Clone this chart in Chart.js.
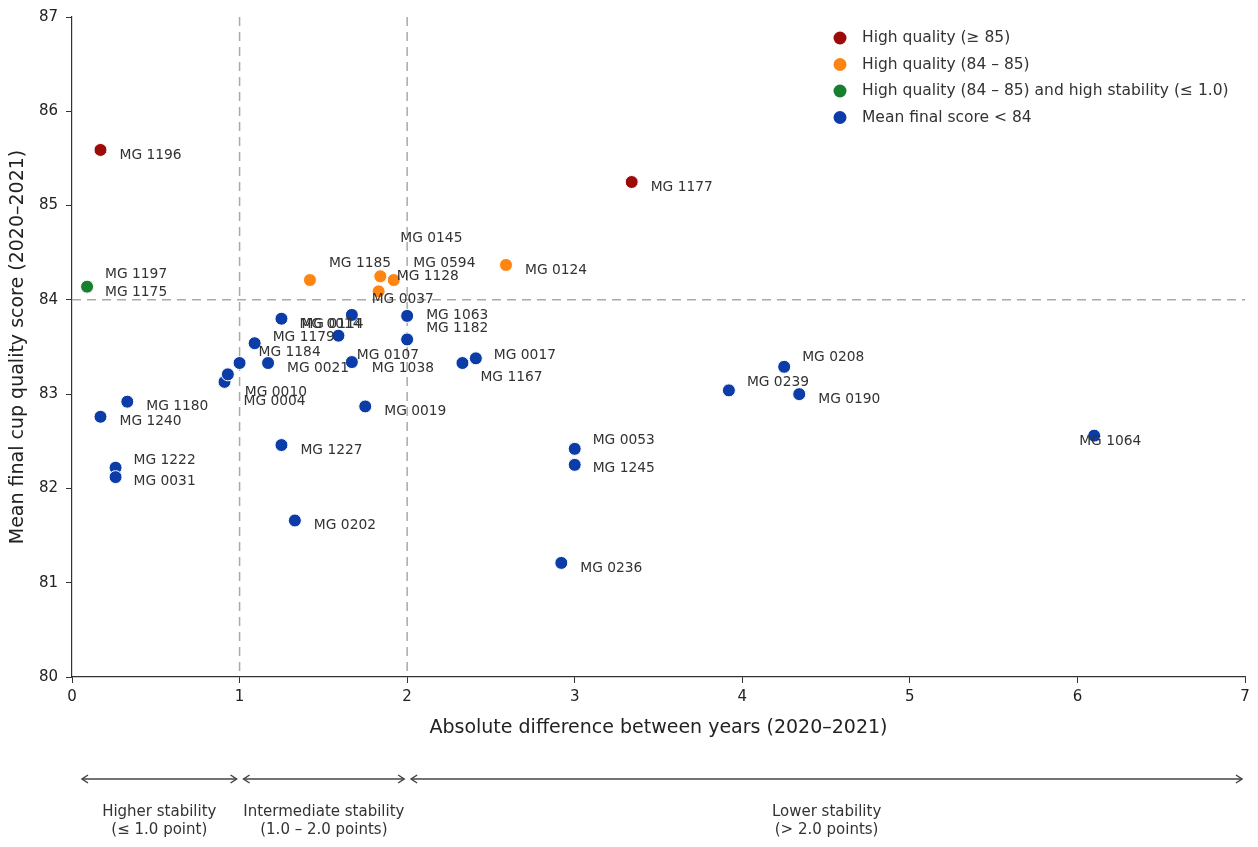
<!DOCTYPE html>
<html>
<head>
<meta charset="utf-8">
<title>Cup quality vs stability</title>
<script src="https://cdn.jsdelivr.net/npm/chart.js@4.4.1/dist/chart.umd.min.js"></script>
<style>
  html, body { margin: 0; padding: 0; background: #fff; }
  #wrap { width: 1258px; height: 847px; position: relative; }
</style>
</head>
<body>
<div id="wrap"><canvas id="chart"></canvas></div>
<script>
// --- data ---
const varieties = [
  'MG 1196', 'MG 1177',
  'MG 1185', 'MG 0145', 'MG 0594', 'MG 1128', 'MG 0037', 'MG 0124',
  'MG 1197', 'MG 1175',
  'MG 1240', 'MG 1180', 'MG 1222', 'MG 0031', 'MG 0004', 'MG 0010', 'MG 1184',
  'MG 1179', 'MG 0021', 'MG 0014', 'MG 0114', 'MG 0107', 'MG 1038', 'MG 0019',
  'MG 1063', 'MG 1182', 'MG 1167', 'MG 0017', 'MG 1227', 'MG 0202', 'MG 0053',
  'MG 1245', 'MG 0236', 'MG 0239', 'MG 0208', 'MG 0190', 'MG 1064'
];
const absDiff = [
  0.17, 3.34,
  1.42, 1.84, 1.84, 1.92, 1.83, 2.59,
  0.09, 0.09,
  0.17, 0.33, 0.26, 0.26, 0.91, 0.93, 1.00,
  1.09, 1.17, 1.25, 1.59, 1.67, 1.67, 1.75,
  2.00, 2.00, 2.33, 2.41, 1.25, 1.33, 3.00,
  3.00, 2.92, 3.92, 4.25, 4.34, 6.10
];
const meanScore = [
  85.59, 85.25,
  84.21, 84.25, 84.25, 84.21, 84.09, 84.37,
  84.14, 84.14,
  82.76, 82.92, 82.22, 82.12, 83.13, 83.21, 83.33,
  83.54, 83.33, 83.80, 83.62, 83.84, 83.34, 82.87,
  83.83, 83.58, 83.33, 83.38, 82.46, 81.66, 82.42,
  82.25, 81.21, 83.04, 83.29, 83.00, 82.56
];
const category = [
  'high', 'high',
  'mid', 'mid', 'mid', 'mid', 'mid', 'mid',
  'stable', 'stable',
  'low', 'low', 'low', 'low', 'low', 'low', 'low',
  'low', 'low', 'low', 'low', 'low', 'low', 'low',
  'low', 'low', 'low', 'low', 'low', 'low', 'low',
  'low', 'low', 'low', 'low', 'low', 'low'
];
const xRange = [0, 7];
const yRange = [80, 87];
const scoreCut = 84;
const stabilityCuts = [1, 2];
const bandEdges = [0, 1, 2, 7];
const bandText = [
  ['Higher stability', '(\u2264 1.0 point)'],
  ['Intermediate stability', '(1.0 \u2013 2.0 points)'],
  ['Lower stability', '(> 2.0 points)']
];

// --- styling ---
const GROUPS = [
  { key: 'high',   label: 'High quality (\u2265 85)',                                   color: '#9c0a0a' },
  { key: 'mid',    label: 'High quality (84 \u2013 85)',                                color: '#ff8512' },
  { key: 'stable', label: 'High quality (84 \u2013 85) and high stability (\u2264 1.0)', color: '#17802f' },
  { key: 'low',    label: 'Mean final score < 84',                                      color: '#0b3ca8' }
];
const FONT = '"DejaVu Sans", sans-serif';
const TEXT = '#333';

// label nudges in pixels (default: right of the dot)
const LABEL_NUDGE = {
  'MG 1185': [19, -17], 'MG 0145': [20, -38], 'MG 0594': [33, -13], 'MG 1128': [3, -4],
  'MG 0037': [-7, 8], 'MG 1197': [18, -12], 'MG 1175': [18, 6], 'MG 1222': [18, -7],
  'MG 0031': [18, 4], 'MG 0004': [19, 20], 'MG 0010': [17, 18], 'MG 1184': [19, -11],
  'MG 1179': [18, -6], 'MG 0014': [18, 6], 'MG 0114': [-37, -11], 'MG 0107': [5, 40],
  'MG 1038': [20, 6], 'MG 1063': [19, 0], 'MG 1182': [19, -11], 'MG 1167': [18, 14],
  'MG 0017': [18, -3], 'MG 0053': [18, -8], 'MG 1245': [18, 4], 'MG 0239': [18, -8],
  'MG 0208': [18, -9], 'MG 1064': [-15, 6]
};

const datasets = GROUPS.map(g => ({
  label: g.label,
  data: varieties
    .map((name, i) => ({ x: absDiff[i], y: meanScore[i], name: name, cat: category[i] }))
    .filter(p => p.cat === g.key),
  backgroundColor: g.color,
  borderColor: '#ffffff',
  borderWidth: 1,
  pointRadius: 6.5,
  pointHoverRadius: 6.5
}));

// dashed reference lines
const guideLines = {
  id: 'guideLines',
  beforeDatasetsDraw(chart) {
    const { ctx, chartArea: a, scales: { x, y } } = chart;
    ctx.save();
    ctx.strokeStyle = '#a9a9a9';
    ctx.lineWidth = 1.5;
    ctx.setLineDash([9, 6]);
    stabilityCuts.forEach(v => {
      const px = x.getPixelForValue(v);
      ctx.beginPath();
      ctx.moveTo(px, a.top);
      ctx.lineTo(px, a.bottom);
      ctx.stroke();
    });
    const py = y.getPixelForValue(scoreCut);
    ctx.beginPath();
    ctx.moveTo(a.left, py);
    ctx.lineTo(a.right, py);
    ctx.stroke();
    ctx.restore();
  }
};

// variety names beside each dot
const pointLabels = {
  id: 'pointLabels',
  afterDatasetsDraw(chart) {
    const ctx = chart.ctx;
    ctx.save();
    ctx.font = '13.8px ' + FONT;
    ctx.fillStyle = TEXT;
    ctx.textAlign = 'left';
    ctx.textBaseline = 'middle';
    chart.data.datasets.forEach((ds, di) => {
      chart.getDatasetMeta(di).data.forEach((el, j) => {
        const name = ds.data[j].name;
        const nudge = LABEL_NUDGE[name] || [19, 5];
        ctx.fillText(name, el.x + nudge[0], el.y + nudge[1]);
      });
    });
    ctx.restore();
  }
};

// legend in the upper right corner
const cornerLegend = {
  id: 'cornerLegend',
  afterDraw(chart) {
    const { ctx, chartArea: a } = chart;
    const x0 = a.right - 405;
    ctx.save();
    ctx.font = '15.5px ' + FONT;
    ctx.textBaseline = 'middle';
    GROUPS.forEach((g, i) => {
      const yy = a.top + 21 + i * 26.5;
      ctx.beginPath();
      ctx.arc(x0, yy, 6.5, 0, Math.PI * 2);
      ctx.fillStyle = g.color;
      ctx.fill();
      ctx.fillStyle = TEXT;
      ctx.fillText(g.label, x0 + 22, yy);
    });
    ctx.restore();
  }
};

// stability bands under the x axis
function arrowHead(ctx, x, y, dir) {
  ctx.beginPath();
  ctx.moveTo(x - dir * 6, y - 4);
  ctx.lineTo(x, y);
  ctx.lineTo(x - dir * 6, y + 4);
  ctx.stroke();
}
const stabilityBands = {
  id: 'stabilityBands',
  afterDraw(chart) {
    const { ctx, chartArea: a, scales: { x } } = chart;
    const ay = a.bottom + 102;
    ctx.save();
    ctx.strokeStyle = '#444';
    ctx.lineWidth = 1.5;
    ctx.font = '15px ' + FONT;
    ctx.fillStyle = TEXT;
    ctx.textAlign = 'center';
    ctx.textBaseline = 'middle';
    for (let k = 0; k < bandText.length; k++) {
      const x1 = x.getPixelForValue(bandEdges[k]) + (k === 0 ? 10 : 4);
      const x2 = x.getPixelForValue(bandEdges[k + 1]) - 3;
      ctx.beginPath();
      ctx.moveTo(x1, ay);
      ctx.lineTo(x2, ay);
      ctx.stroke();
      arrowHead(ctx, x1, ay, -1);
      arrowHead(ctx, x2, ay, 1);
      const cx = (x1 + x2) / 2;
      ctx.fillText(bandText[k][0], cx, ay + 33);
      ctx.fillText(bandText[k][1], cx, ay + 51);
    }
    ctx.restore();
  }
};

Chart.defaults.font.family = FONT;
Chart.defaults.color = '#222';

new Chart(document.getElementById('chart'), {
  type: 'scatter',
  data: { datasets: datasets },
  options: {
    responsive: true,
    maintainAspectRatio: false,
    animation: false,
    layout: { padding: { top: 16, right: 13, left: 0, bottom: 0 } },
    plugins: {
      legend: { display: false },
      tooltip: { enabled: false }
    },
    scales: {
      x: {
        type: 'linear',
        min: xRange[0],
        max: xRange[1],
        ticks: { stepSize: 1, font: { size: 15 }, color: '#222', padding: 5 },
        grid: { display: true, drawOnChartArea: false, drawTicks: true, tickLength: 6, color: '#333' },
        border: { display: true, color: '#333', width: 1.2 },
        title: {
          display: true,
          text: 'Absolute difference between years (2020\u20132021)',
          font: { size: 19 },
          color: '#222',
          padding: { top: 4, bottom: 108 }
        },
        afterFit: s => { s.height = 170; }
      },
      y: {
        type: 'linear',
        min: yRange[0],
        max: yRange[1],
        ticks: { stepSize: 1, font: { size: 15 }, color: '#222', padding: 8 },
        grid: { display: true, drawOnChartArea: false, drawTicks: true, tickLength: 6, color: '#333' },
        border: { display: true, color: '#333', width: 1.2 },
        title: {
          display: true,
          text: 'Mean final cup quality score (2020\u20132021)',
          font: { size: 19 },
          color: '#222',
          padding: { top: 7, bottom: 4 }
        },
        afterFit: s => { s.width = 72; }
      }
    }
  },
  plugins: [guideLines, pointLabels, cornerLegend, stabilityBands]
});
</script>
</body>
</html>
